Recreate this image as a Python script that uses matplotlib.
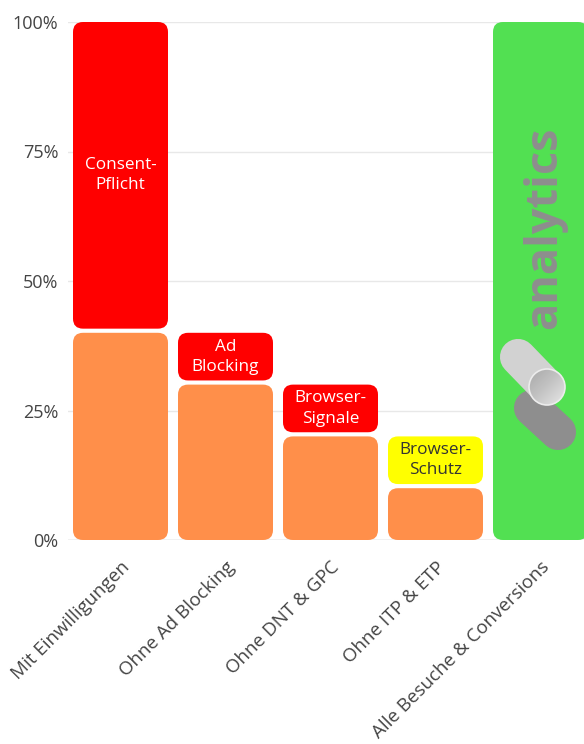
import matplotlib
matplotlib.use("Agg")
import matplotlib.pyplot as plt
from matplotlib.patches import FancyBboxPatch, Ellipse
import numpy as np

categories = ["Mit Einwilligungen", "Ohne Ad Blocking", "Ohne DNT & GPC",
              "Ohne ITP & ETP", "Alle Besuche & Conversions"]
base_values = [40, 30, 20, 10, 100]
blocked_upper = [100, 40, 30, 20, None]
blocked_labels = ["Consent-\nPflicht", "Ad\nBlocking", "Browser-\nSignale", "Browser-\nSchutz"]
blocked_colors = ["#ff0000", "#ff0000", "#ff0000", "#ffff00"]
label_colors = ["white", "white", "white", "#333333"]
base_colors = ["#ff8f4a"] * 4 + ["#52e052"]
yticks = [0, 25, 50, 75, 100]
ytick_labels = ["0%", "25%", "50%", "75%", "100%"]

plt.rcParams['font.family'] = ['Open Sans', 'DejaVu Sans']

W, H = 584, 744
fig = plt.figure(figsize=(W / 100, H / 100), dpi=100)
left_px, right_px, bottom_px, top_px = 68, 593, 540, 22
ax = fig.add_axes([left_px / W, 1 - bottom_px / H, (right_px - left_px) / W,
                   (bottom_px - top_px) / H])
ax.set_xlim(-0.5, 4.5)
ax.set_ylim(0, 100)

x = np.arange(len(categories))
bar_w = 95 / 105
px_x = 105.0  # pixels per x unit
px_y = (bottom_px - top_px) / 100.0  # pixels per y unit
aspect = px_x / px_y
r_px = 10
gap = 0.8


def rbox(x0, y0, w, h, color):
    p = FancyBboxPatch((x0, y0), w, h,
                       boxstyle=f"round,pad=0,rounding_size={r_px / px_x}",
                       mutation_aspect=aspect, fc=color, ec="none", zorder=3)
    ax.add_patch(p)


bars = ax.bar(x, base_values, width=bar_w, color=base_colors)
for b, c in zip(bars, base_colors):
    b.set_visible(False)
    rbox(b.get_x(), b.get_y(), b.get_width(), b.get_height(), c)

for i in range(4):
    lo = base_values[i] + gap
    hi = blocked_upper[i]
    rbox(x[i] - bar_w / 2, lo, bar_w, hi - lo, blocked_colors[i])
    ax.text(x[i], (lo + hi) / 2, blocked_labels[i], ha="center", va="center",
            color=label_colors[i], fontsize=12.3, linespacing=1.35, zorder=4)

# analytics logo on green bar
ax.text(4.04, 60.3, "analytics", rotation=90, ha="center", va="center",
        fontsize=32.5, fontweight="bold", color="#8e8e8e", zorder=4)


def to_data(px, py):
    return (px - left_px) / px_x - 0.5, (bottom_px - py) / px_y


for (p0, p1, col) in [((532, 408), (558, 432), "#8e8e8e"),
                      ((518, 357), (547, 387), "#d2d2d2")]:
    d0, d1 = to_data(*p0), to_data(*p1)
    ax.plot([d0[0], d1[0]], [d0[1], d1[1]], color=col, lw=26,
            solid_capstyle="round", zorder=4)
c = to_data(547, 387)
rad = 18
ell = Ellipse(c, 2 * rad / px_x, 2 * rad / px_y, fc="none", ec="#ececec",
              lw=1.2, zorder=6)
ax.add_patch(ell)
gx, gy = np.meshgrid(np.linspace(0, 1, 64), np.linspace(0, 1, 64))
grad = (gx + gy) / 2  # 0 top-left -> 1 bottom-right (origin upper)
img = ax.imshow(grad, cmap=matplotlib.colors.LinearSegmentedColormap.from_list(
    "g", ["#a8a8a8", "#c4c4c4", "#e8e8e8"]), origin="upper",
    extent=[c[0] - rad / px_x, c[0] + rad / px_x, c[1] - rad / px_y, c[1] + rad / px_y],
    aspect="auto", zorder=5, interpolation="bilinear")
clip = Ellipse(c, 2 * rad / px_x, 2 * rad / px_y, transform=ax.transData)
img.set_clip_path(clip)
ax.set_xlim(-0.5, 4.5)
ax.set_ylim(0, 100)

ax.set_yticks(yticks)
ax.set_yticklabels(ytick_labels)
ax.set_xticks(x)
ax.set_xticklabels(categories, rotation=45, ha="right", rotation_mode="anchor")
ax.tick_params(axis="both", length=0, colors="#444444")
ax.tick_params(axis="x", pad=13, labelsize=13.5)
ax.tick_params(axis="y", pad=7, labelsize=13)
ax.grid(axis="y", color="#e8e8e8", lw=1, zorder=0)
ax.set_axisbelow(True)
for s in ax.spines.values():
    s.set_visible(False)
ax.axhline(0, color="#d0d0d0", lw=1, zorder=1)

fig.savefig("out.png", dpi=100)
